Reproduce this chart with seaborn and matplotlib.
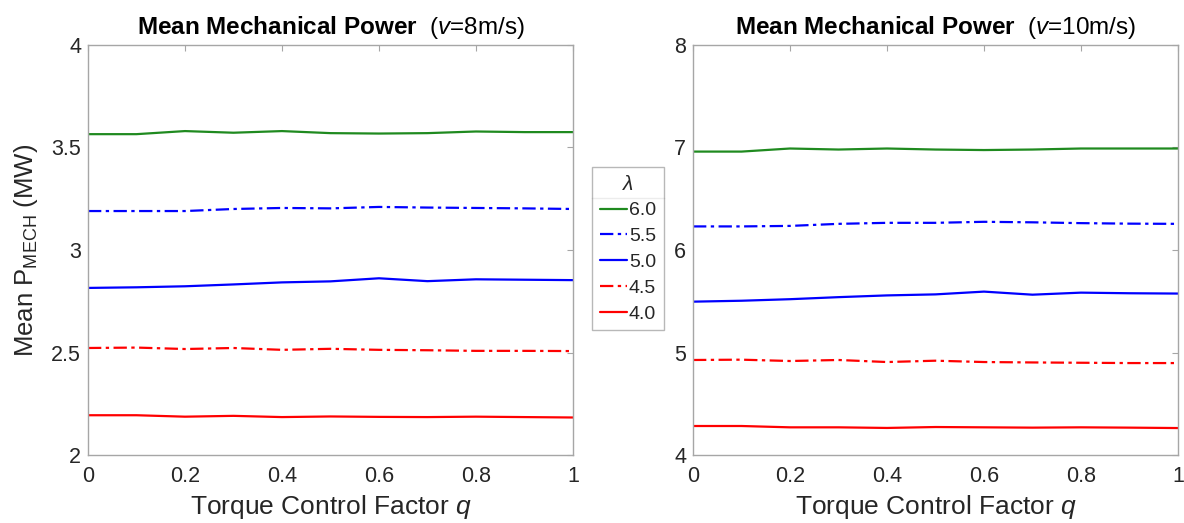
import numpy as np
import pandas as pd
import matplotlib
matplotlib.use("Agg")
import matplotlib.pyplot as plt
from matplotlib.lines import Line2D
import seaborn as sns

q = [0, 0.1, 0.2, 0.3, 0.4, 0.5, 0.6, 0.7, 0.8, 0.9, 1.0]
lambdas = ["6.0", "5.5", "5.0", "4.5", "4.0"]

# v = 8 m/s
p8_l60 = [3.565, 3.565, 3.580, 3.572, 3.580, 3.570, 3.568, 3.570, 3.578, 3.575, 3.575]
p8_l55 = [3.190, 3.190, 3.190, 3.200, 3.205, 3.203, 3.210, 3.207, 3.205, 3.203, 3.200]
p8_l50 = [2.815, 2.818, 2.823, 2.832, 2.842, 2.847, 2.862, 2.848, 2.857, 2.855, 2.853]
p8_l45 = [2.522, 2.524, 2.517, 2.522, 2.513, 2.518, 2.513, 2.511, 2.508, 2.508, 2.507]
p8_l40 = [2.194, 2.194, 2.187, 2.191, 2.185, 2.188, 2.186, 2.185, 2.187, 2.185, 2.183]

# v = 10 m/s
p10_l60 = [6.960, 6.960, 6.990, 6.980, 6.990, 6.980, 6.975, 6.980, 6.990, 6.990, 6.990]
p10_l55 = [6.230, 6.230, 6.235, 6.255, 6.265, 6.265, 6.275, 6.270, 6.262, 6.257, 6.255]
p10_l50 = [5.496, 5.505, 5.520, 5.540, 5.557, 5.567, 5.594, 5.564, 5.584, 5.578, 5.575]
p10_l45 = [4.927, 4.930, 4.917, 4.927, 4.907, 4.920, 4.907, 4.903, 4.900, 4.897, 4.897]
p10_l40 = [4.283, 4.283, 4.270, 4.270, 4.264, 4.273, 4.270, 4.267, 4.270, 4.267, 4.263]

sns.set_style("white")
plt.rcParams['font.family'] = ['Liberation Sans', 'DejaVu Sans']
plt.rcParams['mathtext.fontset'] = 'custom'
plt.rcParams['mathtext.rm'] = 'Liberation Sans'
plt.rcParams['mathtext.it'] = 'Liberation Sans:italic'
plt.rcParams['mathtext.bf'] = 'Liberation Sans:bold'

colors = {"6.0": "#1f8a1f", "5.5": "#0000ff", "5.0": "#0000ff", "4.5": "#ff0000", "4.0": "#ff0000"}
dashdot = (6, 2, 1.5, 2)
styles = {"6.0": "", "5.5": dashdot, "5.0": "", "4.5": dashdot, "4.0": ""}

def make_df(series):
    rows = []
    for lam, vals in zip(lambdas, series):
        for qq, v in zip(q, vals):
            rows.append({"q": qq, "P": v, "lam": lam})
    return pd.DataFrame(rows)

df8 = make_df([p8_l60, p8_l55, p8_l50, p8_l45, p8_l40])
df10 = make_df([p10_l60, p10_l55, p10_l50, p10_l45, p10_l40])

fig = plt.figure(figsize=(11.84, 5.23), dpi=100)
ax1 = fig.add_axes([0.0743, 0.130, 0.4096, 0.784])
ax2 = fig.add_axes([0.5853, 0.130, 0.4096, 0.784])

spine_col = "#a6a6a6"
txt_col = "#262626"
for ax, df, ylim, yticks, v in [(ax1, df8, (2, 4), [2, 2.5, 3, 3.5, 4], 8),
                                 (ax2, df10, (4, 8), [4, 5, 6, 7, 8], 10)]:
    sns.lineplot(data=df, x="q", y="P", hue="lam", style="lam",
                 palette=colors, dashes=styles, hue_order=lambdas, style_order=lambdas,
                 linewidth=1.6, ax=ax, legend=False)
    ax.set_xlim(0, 1)
    ax.set_ylim(*ylim)
    ax.set_xticks([0, 0.2, 0.4, 0.6, 0.8, 1])
    ax.set_xticklabels(["0", "0.2", "0.4", "0.6", "0.8", "1"])
    ax.set_yticks(yticks)
    ax.set_yticklabels([("%g" % t) for t in yticks])
    ax.tick_params(direction="in", length=4, width=0.8, color=spine_col,
                   labelsize=15.5, labelcolor=txt_col, top=True, right=True)
    ax.tick_params(axis="x", pad=8)
    ax.tick_params(axis="y", pad=5)
    for s in ax.spines.values():
        s.set_color(spine_col)
        s.set_linewidth(1.0)
    ax.set_xlabel(r"Torque Control Factor $\it{q}$", fontsize=19, color=txt_col, labelpad=4)
    ax.set_ylabel("")
    ax.set_title(r"$\bf{Mean\ Mechanical\ Power}$  ($\it{v}$=%dm/s)" % v,
                 fontsize=17.5, color="black", pad=8)

ax1.set_ylabel(r"Mean P$_{\mathrm{MECH}}$ (MW)", fontsize=18.5, color=txt_col, labelpad=8)

handles = [Line2D([0], [0], color=colors[l], lw=1.6,
                  linestyle=(0, styles[l]) if styles[l] else "-") for l in lambdas]
leg = fig.legend(handles, lambdas, loc="upper left", bbox_to_anchor=(0.5, 0.681),
                 title=r"$\it{\lambda}$", title_fontsize=15, fontsize=14,
                 frameon=True, fancybox=False, edgecolor="#a6a6a6",
                 handlelength=1.4, handletextpad=0.1, borderpad=0.4,
                 labelspacing=0.42, borderaxespad=0)
leg.get_frame().set_linewidth(1.0)
for t in leg.get_texts():
    t.set_color(txt_col)

fig.canvas.draw()
bb = leg.get_window_extent().transformed(fig.transFigure.inverted())
tb = leg.get_title().get_window_extent().transformed(fig.transFigure.inverted())
ysep = tb.y0 - 0.008
fig.add_artist(Line2D([bb.x0, bb.x1], [ysep, ysep], transform=fig.transFigure,
                      color="#a6a6a6", lw=1.0))

fig.savefig("out.png", dpi=100)
